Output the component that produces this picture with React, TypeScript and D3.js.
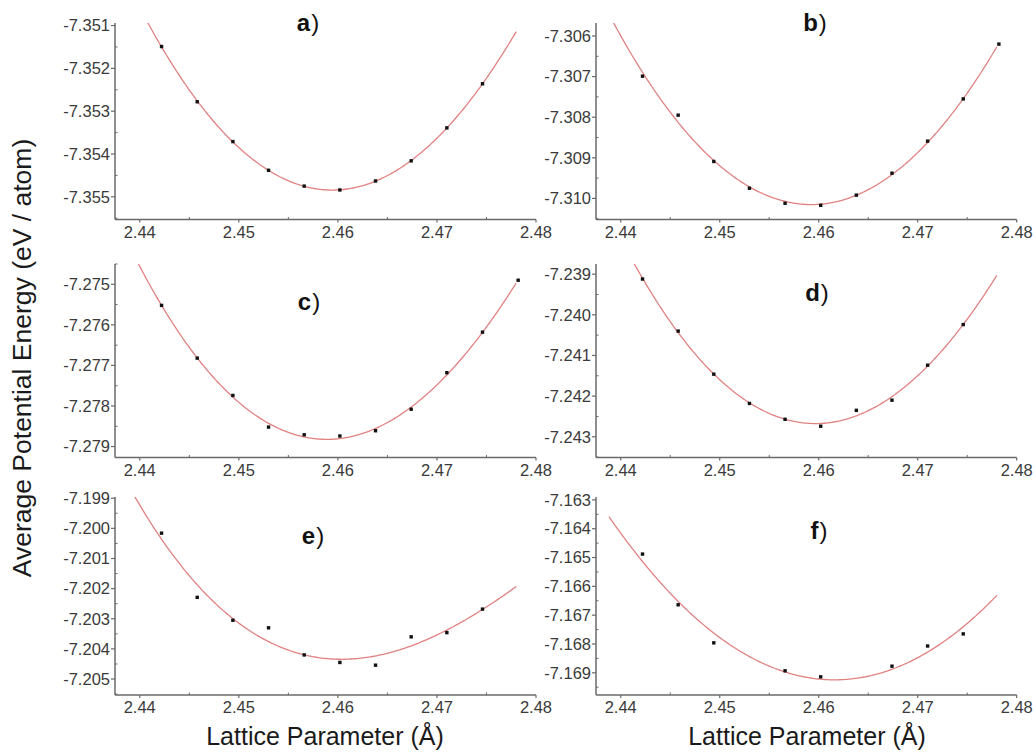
import React from "react";
import * as d3 from "d3";

// ---------- data ----------
const latticeX = [2.4422, 2.4458, 2.4494, 2.453, 2.4566, 2.4602, 2.4638, 2.4674, 2.471, 2.4746, 2.4782];
const latticeXF = [2.4422, 2.4458, 2.4494, 2.4566, 2.4602, 2.4674, 2.471, 2.4746];

const energyA = [-7.35149, -7.35278, -7.35371, -7.35438, -7.35475, -7.35484, -7.35463, -7.35416, -7.35339, -7.35236];
const energyB = [-7.30699, -7.30795, -7.30909, -7.30975, -7.31012, -7.31017, -7.30992, -7.30938, -7.30859, -7.30755, -7.3062];
const energyC = [-7.27552, -7.27682, -7.27774, -7.27852, -7.27871, -7.27874, -7.27861, -7.27808, -7.27718, -7.27618, -7.2749];
const energyD = [-7.23912, -7.2404, -7.24146, -7.24218, -7.24257, -7.24274, -7.24235, -7.2421, -7.24124, -7.24024];
const energyE = [-7.20016, -7.20229, -7.20305, -7.2033, -7.2042, -7.20445, -7.20454, -7.2036, -7.20346, -7.20268];
const energyF = [-7.16488, -7.16664, -7.16796, -7.16893, -7.16914, -7.16877, -7.16807, -7.16765];

const panelLabels = ["a", "b", "c", "d", "e", "f"];
// polynomial degree of the fitted curve in each panel
const fitDegrees = [3, 3, 3, 3, 3, 2];

const xTicks = [2.44, 2.45, 2.46, 2.47, 2.48];
const xDomain = [2.4375, 2.48];
const fitRange = [2.4388, 2.478];

const yTicksA = [-7.351, -7.352, -7.353, -7.354, -7.355];
const yTicksB = [-7.306, -7.307, -7.308, -7.309, -7.31];
const yTicksC = [-7.275, -7.276, -7.277, -7.278, -7.279];
const yTicksD = [-7.239, -7.24, -7.241, -7.242, -7.243];
const yTicksE = [-7.199, -7.2, -7.201, -7.202, -7.203, -7.204, -7.205];
const yTicksF = [-7.163, -7.164, -7.165, -7.166, -7.167, -7.168, -7.169];

const yDomainA = [-7.35553, -7.35094];
const yDomainB = [-7.31052, -7.30568];
const yDomainC = [-7.27927, -7.2745];
const yDomainD = [-7.24351, -7.23875];
const yDomainE = [-7.20553, -7.19896];
const yDomainF = [-7.16977, -7.1629];

const xTitle = "Lattice Parameter (Å)";
const yTitle = "Average Potential Energy (eV / atom)";

// ---------- layout ----------
const W = 1036;
const H = 754;
const colX = [
  [115, 536],
  [596, 1016.7],
];
const rowY = [
  [23, 219.5],
  [264, 457.5],
  [497, 695],
];
const labelPos = [
  [308, 31],
  [815, 31],
  [309, 310],
  [817, 301],
  [313, 544],
  [819, 539],
];

const FONT = "Arial, 'Liberation Sans', Helvetica, sans-serif";
const AXIS = "#6a6a6a";
const TEXT = "#3a3a3a";
const CURVE = "#e08282";

// least-squares polynomial fit in centred coordinates
function polyFit(xs: number[], ys: number[], degree: number) {
  const n = degree + 1;
  const t = xs.map((x) => (x - 2.46) * 100);
  const A: number[][] = Array.from({ length: n }, () => new Array(n + 1).fill(0));
  t.forEach((ti, k) => {
    const p = d3.range(n).map((e) => Math.pow(ti, e));
    for (let i = 0; i < n; i++) {
      for (let j = 0; j < n; j++) A[i][j] += p[i] * p[j];
      A[i][n] += p[i] * ys[k];
    }
  });
  for (let i = 0; i < n; i++) {
    let m = i;
    for (let r = i + 1; r < n; r++) if (Math.abs(A[r][i]) > Math.abs(A[m][i])) m = r;
    [A[i], A[m]] = [A[m], A[i]];
    for (let r = 0; r < n; r++) {
      if (r === i) continue;
      const f = A[r][i] / A[i][i];
      for (let c = i; c <= n; c++) A[r][c] -= f * A[i][c];
    }
  }
  const c = A.map((row, i) => row[n] / row[i]);
  return (x: number) => {
    const u = (x - 2.46) * 100;
    return c.reduce((s, ci, e) => s + ci * Math.pow(u, e), 0);
  };
}

const panels = [
  { xs: latticeX.slice(0, energyA.length), ys: energyA, ticks: yTicksA, dom: yDomainA },
  { xs: latticeX.slice(0, energyB.length), ys: energyB, ticks: yTicksB, dom: yDomainB },
  { xs: latticeX.slice(0, energyC.length), ys: energyC, ticks: yTicksC, dom: yDomainC },
  { xs: latticeX.slice(0, energyD.length), ys: energyD, ticks: yTicksD, dom: yDomainD },
  { xs: latticeX.slice(0, energyE.length), ys: energyE, ticks: yTicksE, dom: yDomainE },
  { xs: latticeXF, ys: energyF, ticks: yTicksF, dom: yDomainF },
];

function Panel({ idx }: { idx: number }) {
  const p = panels[idx];
  const col = idx % 2;
  const row = Math.floor(idx / 2);
  const [x0, x1] = colX[col];
  const [y0, y1] = rowY[row];
  const x = d3.scaleLinear().domain(xDomain).range([x0, x1]);
  const y = d3.scaleLinear().domain(p.dom).range([y1, y0]);
  const fit = polyFit(p.xs, p.ys, fitDegrees[idx]);
  const samples = d3.range(0, 201).map((i) => fitRange[0] + ((fitRange[1] - fitRange[0]) * i) / 200);
  const line = d3
    .line<number>()
    .x((v) => x(v))
    .y((v) => y(fit(v)));
  const clipId = `clip-${idx}`;
  const step = 0.001;
  const yMinor = p.ticks.slice(0, -1).map((t) => t - step / 2).concat([p.ticks[0] + step / 2, p.ticks[p.ticks.length - 1] - step / 2]);
  const xMinor = xTicks.slice(0, -1).map((t) => t + 0.005);
  const [lx, ly] = labelPos[idx];
  return (
    <g>
      <defs>
        <clipPath id={clipId}>
          <rect x={x0} y={y0} width={x1 - x0} height={y1 - y0} />
        </clipPath>
      </defs>
      <path d={line(samples) || ""} fill="none" stroke={CURVE} strokeWidth={1.3} clipPath={`url(#${clipId})`} />
      {p.xs.map((xv, i) => (
        <rect key={i} x={x(xv) - 1.7} y={y(p.ys[i]) - 1.7} width={3.4} height={3.4} fill="#111" />
      ))}
      {/* axes */}
      <line x1={x0} x2={x0} y1={y0} y2={y1} stroke={AXIS} strokeWidth={1.5} />
      <line x1={x0} x2={x1} y1={y1} y2={y1} stroke={AXIS} strokeWidth={1.5} />
      {p.ticks.map((t) => (
        <g key={t}>
          <line x1={x0 - 4} x2={x0} y1={y(t)} y2={y(t)} stroke={AXIS} strokeWidth={1.2} />
          <text x={x0 - 5} y={y(t)} dy="0.35em" textAnchor="end" fontFamily={FONT} fontSize={16.5} fill={TEXT}>
            {d3.format(".3f")(t).replace("−", "-")}
          </text>
        </g>
      ))}
      {yMinor
        .filter((t) => y(t) >= y0 && y(t) <= y1)
        .map((t) => (
          <line key={"m" + t} x1={x0} x2={x0 + 2.5} y1={y(t)} y2={y(t)} stroke={AXIS} strokeWidth={1} />
        ))}
      {xTicks.map((t) => (
        <g key={t}>
          <line x1={x(t)} x2={x(t)} y1={y1} y2={y1 + 3} stroke={AXIS} strokeWidth={1.2} />
          <text x={x(t)} y={y1 + 18} textAnchor="middle" fontFamily={FONT} fontSize={16.5} fill={TEXT}>
            {d3.format(".2f")(t)}
          </text>
        </g>
      ))}
      {xMinor.map((t) => (
        <line key={"xm" + t} x1={x(t)} x2={x(t)} y1={y1} y2={y1 - 2.5} stroke={AXIS} strokeWidth={1} />
      ))}
      <text x={lx} y={ly} textAnchor="middle" fontFamily={FONT} fontSize={24} fill="#111">
        <tspan fontWeight="bold">{panelLabels[idx]}</tspan>
        <tspan dx={1}>)</tspan>
      </text>
    </g>
  );
}

export default function App() {
  return (
    <div style={{ position: "absolute", left: 0, top: 0 }}>
      <svg width={W} height={H} viewBox={`0 0 ${W} ${H}`} style={{ display: "block", background: "#fff" }}>
        {panels.map((_, i) => (
          <Panel key={i} idx={i} />
        ))}
        <text
          transform="translate(31,358) rotate(-90)"
          textAnchor="middle"
          fontFamily={FONT}
          fontSize={26.5}
          fill="#1a1a1a"
        >
          {yTitle}
        </text>
        <text x={325} y={745} textAnchor="middle" fontFamily={FONT} fontSize={25} fill="#1a1a1a">
          {xTitle}
        </text>
        <text x={807} y={745} textAnchor="middle" fontFamily={FONT} fontSize={25} fill="#1a1a1a">
          {xTitle}
        </text>
      </svg>
    </div>
  );
}
